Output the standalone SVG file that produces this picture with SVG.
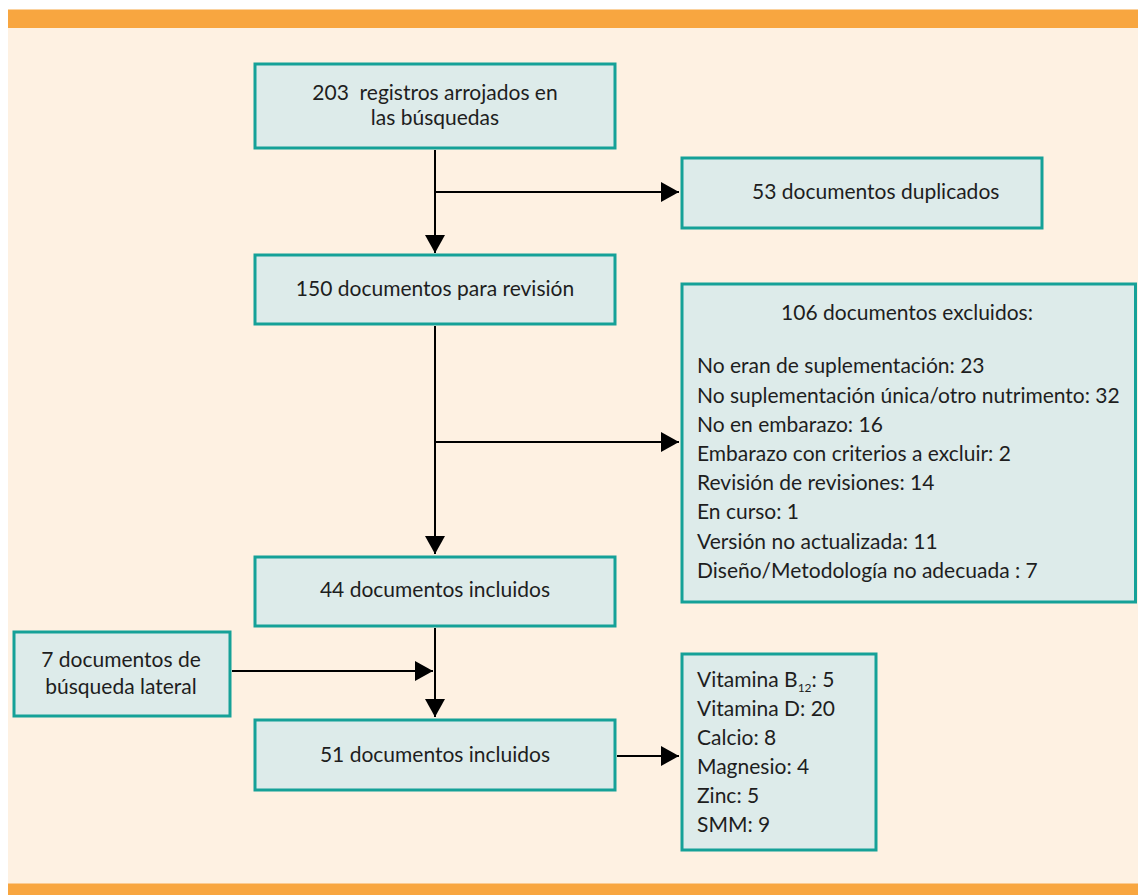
<svg xmlns="http://www.w3.org/2000/svg" width="1138" height="895" viewBox="0 0 1138 895">
<style>
.box{fill:#DDEBEA;stroke:#15A198;stroke-width:3}
.t{font-family:Lato,"Open Sans","Liberation Sans",sans-serif;font-size:21px;fill:#1e1e1e}
.c{text-anchor:middle}
.ln{stroke:#000;stroke-width:2;fill:none;marker-end:url(#ah)}
</style>
<defs>
<marker id="ah" markerUnits="userSpaceOnUse" markerWidth="18" markerHeight="20" refX="18" refY="10" orient="auto">
<path d="M0,0 L18,10 L0,20 Z" fill="#000"/>
</marker>
</defs>
<rect x="8" y="28" width="1130" height="856" fill="#FEF1E2"/>
<rect x="8" y="9.5" width="1130" height="18.5" fill="#F8A640"/>
<rect x="8" y="883.5" width="1130" height="11.5" fill="#F8A640"/>
<g id="connectors">
<line class="ln" x1="435" y1="150" x2="435" y2="253"/>
<line class="ln" x1="435" y1="192" x2="679" y2="192"/>
<line class="ln" x1="435" y1="326" x2="435" y2="554"/>
<line class="ln" x1="435" y1="442" x2="679" y2="442"/>
<line class="ln" x1="435" y1="628" x2="435" y2="717"/>
<line class="ln" x1="232" y1="671" x2="433" y2="671"/>
<line class="ln" x1="617" y1="756" x2="679" y2="756"/>
</g>
<g id="n1">
<rect class="box" x="255" y="64" width="360" height="84"/>
<text class="t c" x="435" y="100" xml:space="preserve">203  registros arrojados en</text>
<text class="t c" x="435" y="125">las búsquedas</text>
</g>
<g id="n2">
<rect class="box" x="682" y="158" width="360" height="70"/>
<text class="t" x="752" y="199">53 documentos duplicados</text>
</g>
<g id="n3">
<rect class="box" x="255" y="255" width="360" height="69"/>
<text class="t c" x="435" y="296">150 documentos para revisión</text>
</g>
<g id="n4">
<rect class="box" x="682" y="284" width="453.5" height="318"/>
<text class="t c" x="907" y="320">106 documentos excluidos:</text>
<text class="t" x="697" y="373">No eran de suplementación: 23</text>
<text class="t" x="697" y="402.5">No suplementación única/otro nutrimento: 32</text>
<text class="t" x="697" y="431.5">No en embarazo: 16</text>
<text class="t" x="697" y="461">Embarazo con criterios a excluir: 2</text>
<text class="t" x="697" y="490">Revisión de revisiones: 14</text>
<text class="t" x="697" y="519">En curso: 1</text>
<text class="t" x="697" y="548.5">Versión no actualizada: 11</text>
<text class="t" x="697" y="578">Diseño/Metodología no adecuada : 7</text>
</g>
<g id="n5">
<rect class="box" x="255" y="557" width="360" height="69"/>
<text class="t c" x="435" y="597">44 documentos incluidos</text>
</g>
<g id="n6">
<rect class="box" x="14" y="632" width="216" height="84"/>
<text class="t c" x="121" y="667">7 documentos de</text>
<text class="t c" x="121" y="694">búsqueda lateral</text>
</g>
<g id="n7">
<rect class="box" x="255" y="720" width="360" height="70"/>
<text class="t c" x="435" y="762">51 documentos incluidos</text>
</g>
<g id="n8">
<rect class="box" x="682" y="654" width="194" height="196"/>
<text class="t" x="697" y="687">Vitamina B<tspan font-size="12" dy="5">12</tspan><tspan dy="-5">: 5</tspan></text>
<text class="t" x="697" y="715.5">Vitamina D: 20</text>
<text class="t" x="697" y="745">Calcio: 8</text>
<text class="t" x="697" y="773.5">Magnesio: 4</text>
<text class="t" x="697" y="803">Zinc: 5</text>
<text class="t" x="697" y="832">SMM: 9</text>
</g>
</svg>
